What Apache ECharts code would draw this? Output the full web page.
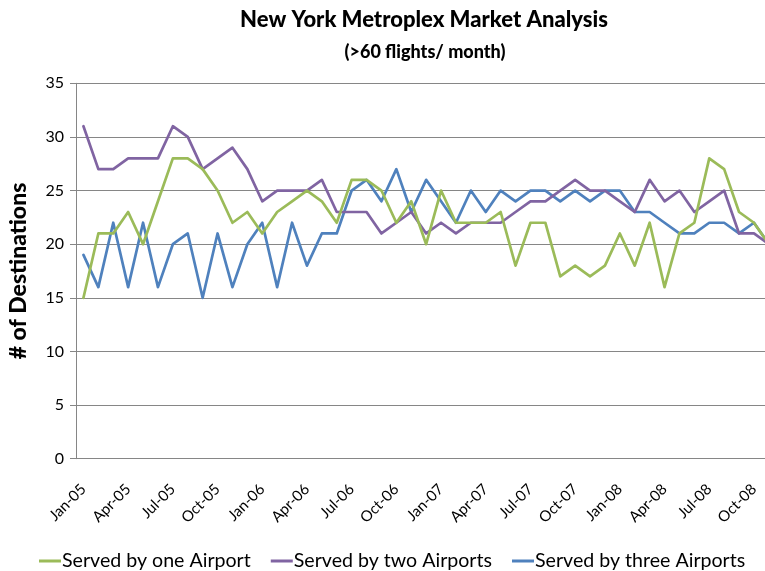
<!DOCTYPE html>
<html><head><meta charset="utf-8">
<script src="https://cdn.jsdelivr.net/npm/echarts@6/dist/echarts.min.js"></script>
<style>html,body{margin:0;padding:0;background:#fff}#c{width:765px;height:571px}</style>
</head><body><div id="c"></div>
<script>
const months = ['Jan','Feb','Mar','Apr','May','Jun','Jul','Aug','Sep','Oct','Nov','Dec'];
const categories = [];
for (let y = 5; y <= 8; y++) for (let m = 0; m < 12; m++) categories.push(months[m] + '-0' + y);
categories.length = 47; // Jan-05 .. Nov-08
const yTicks = [0, 5, 10, 15, 20, 25, 30, 35];
const seriesNames = ['Served by one Airport', 'Served by two Airports', 'Served by three Airports'];
const oneAirport = [15,21,21,23,20,24,28,28,27,25,22,23,21,23,24,25,24,22,26,26,25,22,24,20,25,22,22,22,23,18,22,22,17,18,17,18,21,18,22,16,21,22,28,27,23,22,20];
const twoAirports = [31,27,27,28,28,28,31,30,27,28,29,27,24,25,25,25,26,23,23,23,21,22,23,21,22,21,22,22,22,23,24,24,25,26,25,25,24,23,26,24,25,23,24,25,21,21,20];
const threeAirports = [19,16,22,16,22,16,20,21,15,21,16,20,22,16,22,18,21,21,25,26,24,27,23,26,24,22,25,23,25,24,25,25,24,25,24,25,25,23,23,22,21,21,22,22,21,22,20];
const colors = ['#9BBB59', '#8064A2', '#4F81BD'];
const FONT = 'Lato';

const chart = echarts.init(document.getElementById('c'));
const mk = (name, data, i) => ({
  name, type: 'line', data, showSymbol: false, symbol: 'none',
  lineStyle: { width: 2.7, color: colors[i], join: 'round', cap: 'round' },
  itemStyle: { color: colors[i] }, z: 3 - i
});
chart.setOption({
  animation: false,
  textStyle: { fontFamily: FONT },
  title: [
    { text: 'New York Metroplex Market Analysis', left: 419, top: 4, textAlign: 'center',
      textStyle: { fontFamily: FONT, fontWeight: 900, fontSize: 22, color: '#000' } },
    { text: '(>60 flights/ month)', left: 420, top: 38, textAlign: 'center',
      textStyle: { fontFamily: FONT, fontWeight: 900, fontSize: 18, color: '#000' } }
  ],
  legend: {
    bottom: 0, left: 39, width: 740, padding: 0, icon: 'rect', itemWidth: 22, itemHeight: 3, itemGap: 20,
    textStyle: { fontFamily: FONT, fontSize: 19.6, color: '#000', padding: [0, 0, 0, -4] },
    data: seriesNames
  },
  grid: { left: 76, top: 83.3, height: 375.4, width: 700.3, containLabel: false, outerBoundsMode: 'none' },
  xAxis: {
    type: 'category', data: categories, boundaryGap: true,
    axisLine: { lineStyle: { color: '#868686', width: 1 } },
    axisTick: { show: false },
    axisLabel: { interval: 2, rotate: 45, fontFamily: FONT, fontSize: 15, color: '#000', margin: 28 }
  },
  yAxis: {
    type: 'value', min: yTicks[0], max: yTicks[yTicks.length - 1], interval: 5,
    name: '# of Destinations', nameLocation: 'middle', nameGap: 46, nameRotate: 90,
    nameTextStyle: { fontFamily: FONT, fontWeight: 900, fontSize: 23, color: '#000' },
    axisLine: { show: true, lineStyle: { color: '#868686' } },
    axisTick: { show: true, length: 6, lineStyle: { color: '#868686' } },
    axisLabel: { fontFamily: FONT, fontSize: 16, color: '#000', margin: 12 },
    splitLine: { lineStyle: { color: '#868686', width: 1 } }
  },
  series: [mk(seriesNames[0], oneAirport, 0), mk(seriesNames[1], twoAirports, 1), mk(seriesNames[2], threeAirports, 2)]
});
</script></body></html>
